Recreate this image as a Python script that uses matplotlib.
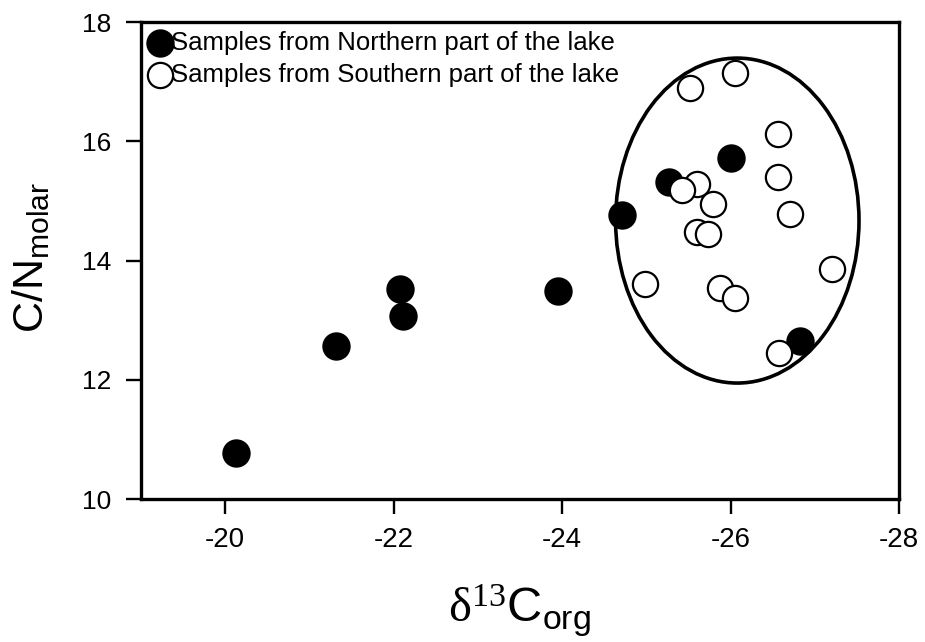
import numpy as np
import matplotlib
matplotlib.use('Agg')
import matplotlib.pyplot as plt
from matplotlib.patches import Ellipse

plt.rcParams['font.family'] = ['Liberation Sans', 'DejaVu Sans']
plt.rcParams['mathtext.fontset'] = 'custom'
plt.rcParams['mathtext.rm'] = 'Liberation Serif'
plt.rcParams['mathtext.sf'] = 'Liberation Sans'

# samples from the northern part (filled)
north_d13c = [-20.13, -21.31, -22.08, -22.11, -23.95, -24.71, -25.27, -26.0, -26.83]
north_cn = [10.77, 12.56, 13.52, 13.07, 13.49, 14.76, 15.32, 15.72, 12.65]

# samples from the southern part (open)
south_d13c = [-26.05, -25.52, -26.56, -26.56, -25.6, -25.42, -25.79, -26.71,
              -25.6, -25.73, -27.21, -24.99, -25.87, -26.05, -26.58]
south_cn = [17.14, 16.89, 16.12, 15.40, 15.28, 15.18, 14.95, 14.78,
            14.48, 14.44, 13.86, 13.60, 13.54, 13.37, 12.45]

# ellipse around the southern group
ell_center = (-26.08, 14.67)
ell_width = 2.89
ell_height = 5.45

x_ticks = [-20, -22, -24, -26, -28]
y_ticks = [10, 12, 14, 16, 18]

fig = plt.figure(figsize=(9.25, 6.42), dpi=100)
ax = fig.add_axes([0.1524, 0.2227, 0.8195, 0.743])

ell = Ellipse(ell_center, ell_width, ell_height, fill=False, edgecolor='black',
              linewidth=2.6, zorder=1)
ax.add_patch(ell)

ax.scatter(north_d13c, north_cn, s=370, c='black', edgecolors='black',
           linewidths=1.2, zorder=2, label='Samples from Northern part of the lake')
ax.scatter(south_d13c, south_cn, s=330, c='white', edgecolors='black',
           linewidths=1.6, zorder=3, label='Samples from Southern part of the lake')

ax.set_xlim(-19, -28)
ax.set_ylim(10, 18)
ax.set_xticks(x_ticks)
ax.set_xticklabels([str(t) for t in x_ticks])
ax.set_yticks(y_ticks)

for s in ax.spines.values():
    s.set_linewidth(2.4)
ax.tick_params(axis='both', direction='out', length=10.5, width=1.7)
ax.tick_params(axis='x', labelsize=20, pad=10)
ax.tick_params(axis='y', labelsize=19, pad=11)

leg = ax.legend(loc='upper left', bbox_to_anchor=(0, 1), borderaxespad=0,
                borderpad=0.35, frameon=False, fontsize=18.5, handlelength=0.75,
                handletextpad=0.07, labelspacing=0.3, scatterpoints=1)

fig.text(519 / 925, 1 - 611 / 642, r'$\mathrm{\delta^{13}}\mathsf{C_{org}}$',
         fontsize=35, ha='center', va='center')
fig.text(31 / 925, 1 - 257 / 642, r'$\mathsf{C/N_{molar}}$',
         fontsize=31, ha='center', va='center', rotation=90)

fig.savefig('out.png', dpi=100)
